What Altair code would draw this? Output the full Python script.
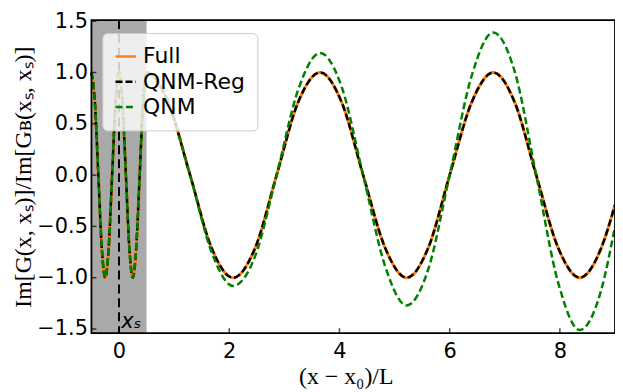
import altair as alt
import pandas as pd

# ---- data ----
x_pts = [-0.5, -0.4375, -0.375, -0.3125, -0.25, -0.1875, -0.125, -0.0625, 0.0,
         0.0625, 0.125, 0.1875, 0.25, 0.3125, 0.375, 0.4375, 0.5,
         0.89, 1.29, 1.68, 2.07, 2.47, 2.86, 3.25, 3.65, 4.04, 4.43, 4.83,
         5.22, 5.61, 6.0, 6.4, 6.79, 7.18, 7.57, 7.97, 8.36, 8.75, 9.0]
full_vals = [1.0, 0.71, 0.0, -0.71, -1.0, -0.71, 0.0, 0.71, 1.0,
             0.71, 0.0, -0.71, -1.0, -0.71, 0.0, 0.71, 1.0,
             0.71, 0.0, -0.71, -1.0, -0.71, 0.0, 0.71, 1.0, 0.71, 0.0, -0.71,
             -1.0, -0.71, 0.0, 0.71, 1.0, 0.71, 0.0, -0.71, -1.0, -0.71, -0.29]
qnmreg_vals = list(full_vals)
qnm_vals = [1.0, 0.71, 0.0, -0.71, -1.0, -0.71, 0.0, 0.71, 1.0,
            0.71, 0.0, -0.71, -1.0, -0.71, 0.0, 0.71, 1.0,
            0.72, 0.0, -0.75, -1.08, -0.79, 0.0, 0.83, 1.19, 0.86, 0.0, -0.89,
            -1.27, -0.92, 0.0, 0.97, 1.39, 1.01, 0.0, -1.05, -1.51, -1.12, -0.5]

series_names = ["Full", "QNM-Reg", "QNM"]
series_colors = ["#ff7f0e", "#000000", "#008000"]
series_dash = [[1, 0], [7, 3], [7, 3.5]]

x_ticks = [0, 2, 4, 6, 8]
y_ticks = [-1.5, -1.0, -0.5, 0.0, 0.5, 1.0, 1.5]
region = pd.DataFrame({"x0": [-0.5], "x1": [0.5]})
source_x = [0.0]
label_df = pd.DataFrame({"x": [0.04], "y": [-1.49], "t": ["xₛ"]})

rows = []
for name, vals in zip(series_names, [full_vals, qnmreg_vals, qnm_vals]):
    for xv, yv in zip(x_pts, vals):
        rows.append({"x": xv, "y": yv, "series": name})
df = pd.DataFrame(rows)

W, H = 527, 315
xs = alt.Scale(domain=[-0.5, 9], nice=False, zero=False)
ys = alt.Scale(domain=[-1.54, 1.51], nice=False, zero=False)

xax = alt.Axis(values=x_ticks, ticks=False, grid=False, domain=False, format="d",
               labelFontSize=21, labelFont="DejaVu Sans", labelColor="black", labelPadding=8,
               title="(x − x₀)/L", titleFont="Liberation Serif", titleFontSize=24,
               titleFontWeight="normal", titleColor="black", titlePadding=3,
               titleX=256, titleAlign="center")
yax = alt.Axis(values=y_ticks, ticks=False, grid=False, domain=False, format=".1f",
               labelFontSize=21, labelFont="DejaVu Sans", labelColor="black", labelPadding=4,
               title="Im[G(x, xₛ)]/Im[Gʙ(xₛ, xₛ)]", titleFont="Liberation Serif",
               titleFontSize=24, titleFontWeight="normal", titleColor="black", titlePadding=1)

shade = alt.Chart(region).mark_rect(color="#a9a9a9", opacity=1).encode(
    x=alt.X("x0:Q", scale=xs, axis=xax),
    x2="x1:Q",
    y=alt.value(0), y2=alt.value(H))

vline = alt.Chart(pd.DataFrame({"x": source_x})).mark_rule(
    color="black", strokeWidth=2, strokeDash=[9, 5]).encode(
    x=alt.X("x:Q", scale=xs), y=alt.value(0), y2=alt.value(H))

color_enc = alt.Color("series:N", scale=alt.Scale(domain=series_names, range=series_colors),
                      legend=alt.Legend(title=None, orient="none", legendX=11, legendY=13,
                                        symbolType="stroke", symbolSize=420,
                                        symbolStrokeWidth=2.5, labelFontSize=22,
                                        labelFont="DejaVu Sans", labelColor="black",
                                        labelOffset=6, rowPadding=2.5, padding=12,
                                        fillColor="rgba(255,255,255,0.8)",
                                        strokeColor="#cccccc", cornerRadius=5,
                                        labelLimit=300))
dash_enc = alt.StrokeDash("series:N", scale=alt.Scale(domain=series_names, range=series_dash),
                          legend=None)

lines = []
widths = {"Full": 3, "QNM-Reg": 2.5, "QNM": 2.5}
for name in series_names:
    lines.append(
        alt.Chart(df).transform_filter(alt.datum.series == name)
        .mark_line(interpolate="monotone", strokeWidth=widths[name])
        .encode(x=alt.X("x:Q", scale=xs),
                y=alt.Y("y:Q", scale=ys, axis=yax),
                color=color_enc, strokeDash=dash_enc)
    )

xtick = alt.Chart(pd.DataFrame({"v": x_ticks})).mark_tick(
    color="black", thickness=1.5, size=5, orient="vertical").encode(
    x=alt.X("v:Q", scale=xs), y=alt.value(H - 2.5))
ytick = alt.Chart(pd.DataFrame({"v": y_ticks})).mark_tick(
    color="black", thickness=1.5, size=5, orient="horizontal").encode(
    y=alt.Y("v:Q", scale=ys), x=alt.value(2.5))

frame = alt.Chart(pd.DataFrame({"a": [0]})).mark_rect(
    fill=None, stroke="black", strokeWidth=1.8).encode(
    x=alt.value(0), x2=alt.value(W), y=alt.value(0), y2=alt.value(H))

xs_label = alt.Chart(label_df).mark_text(
    font="DejaVu Sans", fontStyle="italic", fontSize=21, align="left",
    baseline="alphabetic", color="black").encode(
    x=alt.X("x:Q", scale=xs), y=alt.Y("y:Q", scale=ys), text="t:N")

chart = alt.layer(shade, vline, *lines, xtick, ytick, xs_label, frame).properties(
    width=W, height=H,
    autosize=alt.AutoSizeParams(type="none"),
    padding={"left": 84, "top": 11, "right": 0, "bottom": 56},
).configure_view(stroke=None).configure(background="white")

chart.save("out.html", embed_options={"renderer": "svg", "actions": False})
